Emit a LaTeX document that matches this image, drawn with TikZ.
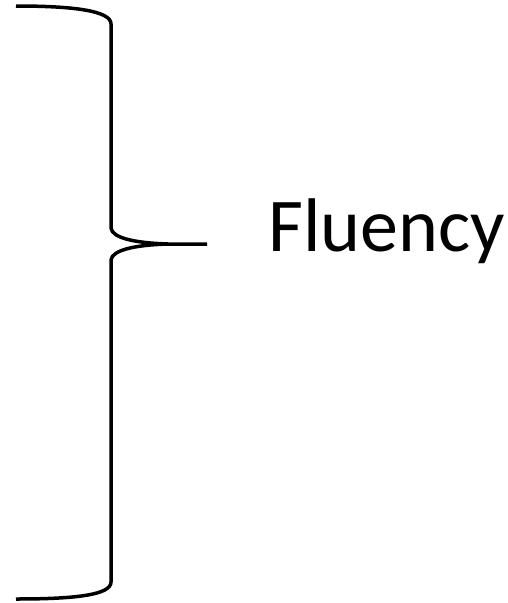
\documentclass[tikz,border=0pt]{standalone}
\usepackage{fontspec}
\setmainfont{Carlito}
\begin{document}
\begin{tikzpicture}[x=1pt,y=-1pt,
  bracestroke/.style={line width=3.5pt,line cap=butt,line join=round},
  label/.style={font=\fontsize{76}{80}\selectfont,inner sep=0pt,anchor=base west}]
\useasboundingbox (0,0) rectangle (507,603);
% right curly brace with its point at the tip coordinate
\coordinate (tip) at (207,244);
\draw[bracestroke] (16,6) .. controls (75,6) and (111,11) .. (111,24)
  -- (111,228) .. controls (112,238) and (135,243) .. (168,244) -- (tip);
\draw[bracestroke] (168,244) .. controls (135,245) and (112,250) .. (111,260)
  -- (111,582) .. controls (111,595) and (75,599) .. (16,599);
\node[label] (fluency) at (268,251) {Fluency};
\end{tikzpicture}
\end{document}
